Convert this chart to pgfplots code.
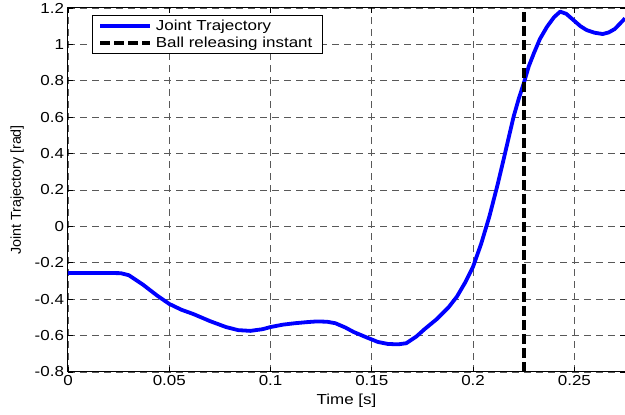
\documentclass[border=0pt]{standalone}
\usepackage{fontspec}
\setmainfont[FakeStretch=1.17]{Liberation Sans}
\newfontfamily\ylfont{Liberation Sans}
\usepackage{pgfplots}
\pgfplotsset{compat=1.18}
\usetikzlibrary{calc}

\pgfplotstableread{
x y
0 -0.256
0.020 -0.256
0.026 -0.257
0.030 -0.268
0.037 -0.320
0.044 -0.380
0.050 -0.426
0.056 -0.458
0.062 -0.482
0.070 -0.520
0.078 -0.553
0.084 -0.570
0.090 -0.574
0.096 -0.565
0.100 -0.553
0.106 -0.540
0.112 -0.532
0.118 -0.526
0.123 -0.522
0.128 -0.524
0.132 -0.532
0.137 -0.556
0.141 -0.580
0.147 -0.608
0.153 -0.635
0.158 -0.646
0.163 -0.648
0.167 -0.642
0.172 -0.605
0.176 -0.565
0.182 -0.510
0.188 -0.443
0.192 -0.386
0.196 -0.310
0.200 -0.221
0.204 -0.095
0.208 0.053
0.212 0.225
0.215 0.365
0.218 0.508
0.220 0.603
0.2225 0.700
0.225 0.786
0.2275 0.880
0.230 0.951
0.233 1.030
0.2365 1.097
0.240 1.150
0.243 1.180
0.246 1.168
0.2495 1.134
0.253 1.100
0.256 1.079
0.260 1.064
0.264 1.057
0.267 1.066
0.270 1.085
0.275 1.143
}\trajectory

\begin{document}
\begin{tikzpicture}
\begin{axis}[
  scale only axis,
  width=557pt, height=364pt,
  xmin=0, xmax=0.275,
  ymin=-0.8, ymax=1.2,
  xtick={0,0.05,0.1,0.15,0.2,0.25},
  xticklabels={0,0.05,0.1,0.15,0.2,0.25},
  ytick={-0.8,-0.6,-0.4,-0.2,0,0.2,0.4,0.6,0.8,1,1.2},
  yticklabels={-0.8,-0.6,-0.4,-0.2,0,0.2,0.4,0.6,0.8,1,1.2},
  tick align=inside,
  major tick length=5pt,
  tick style={black, line width=0.8pt},
  axis line style={line width=1pt},
  ticklabel style={font=\fontsize{14.5}{17}\selectfont},
  yticklabel style={xshift=-0.5pt},
  grid=major,
  major grid style={black!65, line width=0.8pt, dash pattern=on 7pt off 5pt},
  xlabel={Time [s]},
  ylabel={Joint Trajectory [rad]},
  xlabel style={font=\fontsize{14.5}{17}\selectfont, yshift=-1pt},
  ylabel style={font=\ylfont\fontsize{14.3}{16}\selectfont, yshift=4pt},
  legend cell align=left,
  legend style={at={(rel axis cs:0.043,0.981)}, anchor=north west,
    font=\fontsize{14.5}{17}\selectfont, draw=black, line width=0.8pt,
    inner xsep=6pt, inner ysep=3pt, row sep=2pt,
    nodes={inner xsep=3.5pt, inner ysep=1.5pt}},
  legend image code/.code={\draw[#1] (0pt,0pt) -- (50pt,0pt);},
]
\addplot[blue, line width=3.8pt, line join=round] table[x=x, y=y] {\trajectory};
\addlegendentry{Joint Trajectory}
\addplot[black, line width=4pt, dash pattern=on 10pt off 4pt] coordinates {(0.225,-0.8) (0.225,1.2)};
\addlegendentry{Ball releasing instant}
\end{axis}
\pgfresetboundingbox
\path ($(current axis.south west)+(-68pt,-42pt)$) rectangle ($(current axis.north east)+(0pt,8pt)$);
\end{tikzpicture}
\end{document}
